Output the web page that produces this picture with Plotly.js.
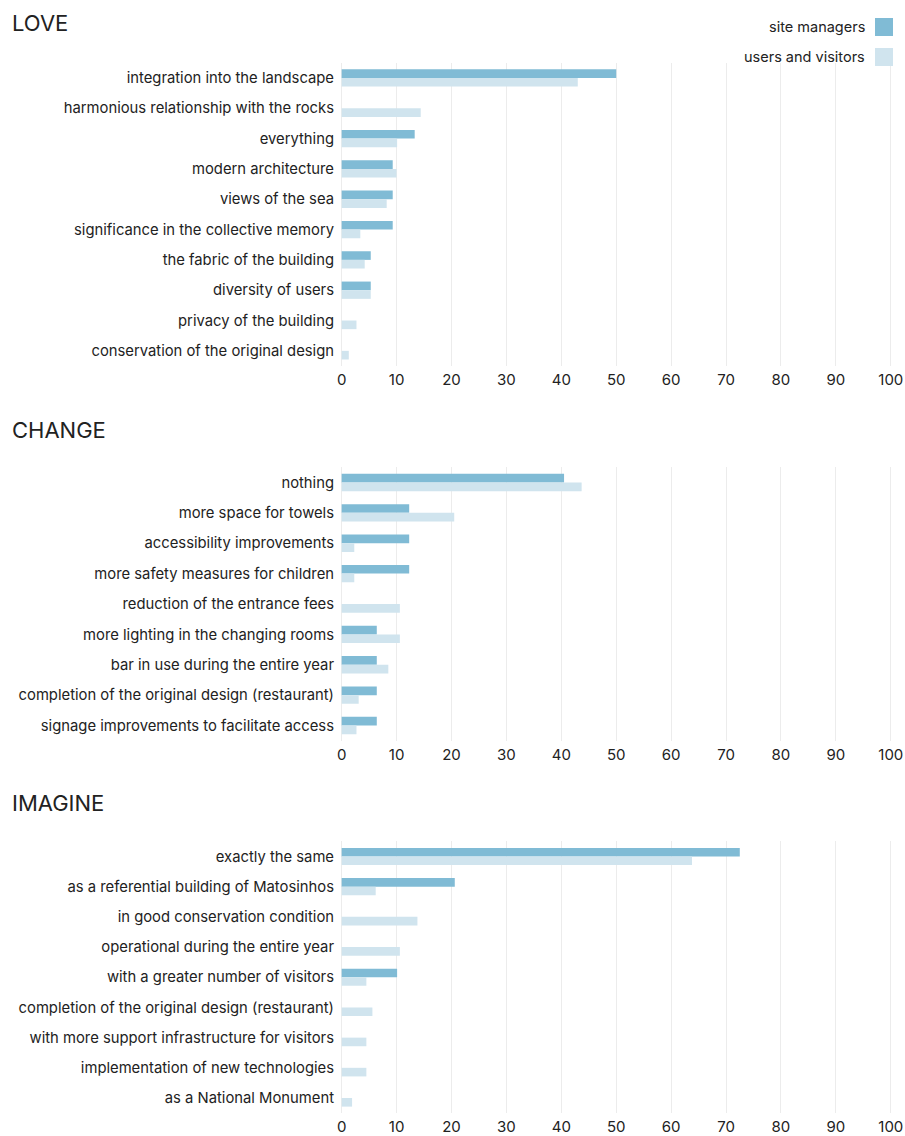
<!DOCTYPE html>
<html>
<head>
<meta charset="utf-8">
<script src="https://cdn.plot.ly/plotly-3.0.1.min.js"></script>
<style>html,body{margin:0;padding:0;background:#fff;}#chart{width:905px;height:1136px;}</style>
</head>
<body>
<div id="chart"></div>
<script>
const seriesNames = ["site managers", "users and visitors"];
const sectionTitles = ["LOVE", "CHANGE", "IMAGINE"];

const loveCategories = ["integration into the landscape", "harmonious relationship with the rocks", "everything", "modern architecture", "views of the sea", "significance in the collective memory", "the fabric of the building", "diversity of users", "privacy of the building", "conservation of the original design"];
const loveSite = [50, 0, 13.3, 9.3, 9.3, 9.3, 5.3, 5.3, 0, 0];
const loveUsers = [43, 14.4, 10.1, 10, 8.2, 3.4, 4.2, 5.3, 2.7, 1.3];

const changeCategories = ["nothing", "more space for towels", "accessibility improvements", "more safety measures for children", "reduction of the entrance fees", "more lighting in the changing rooms", "bar in use during the entire year", "completion of the original design (restaurant)", "signage improvements to facilitate access"];
const changeSite = [40.5, 12.3, 12.3, 12.3, 0, 6.4, 6.4, 6.4, 6.4];
const changeUsers = [43.7, 20.5, 2.3, 2.3, 10.6, 10.6, 8.5, 3.1, 2.7];

const imagineCategories = ["exactly the same", "as a referential building of Matosinhos", "in good conservation condition", "operational during the entire year", "with a greater number of visitors", "completion of the original design (restaurant)", "with more support infrastructure for visitors", "implementation of new technologies", "as a National Monument"];
const imagineSite = [72.5, 20.6, 0, 0, 10.1, 0, 0, 0, 0];
const imagineUsers = [63.8, 6.2, 13.8, 10.6, 4.5, 5.6, 4.5, 4.5, 1.9];

const xTicks = [0, 10, 20, 30, 40, 50, 60, 70, 80, 90, 100];

const colSite = "#80bbd5";
const colUsers = "#d0e4ee";
const FONT = "Inter, 'Liberation Sans', Arial, sans-serif";

const sections = [
  {cats: loveCategories, site: loveSite, users: loveUsers, ax: ""},
  {cats: changeCategories, site: changeSite, users: changeUsers, ax: "2"},
  {cats: imagineCategories, site: imagineSite, users: imagineUsers, ax: "3"}
];

const traces = [];
sections.forEach(s => {
  traces.push({type: "bar", orientation: "h", name: seriesNames[0], y: s.cats, x: s.site,
    marker: {color: colSite}, xaxis: "x" + s.ax, yaxis: "y" + s.ax, showlegend: false, hoverinfo: "x+y"});
  traces.push({type: "bar", orientation: "h", name: seriesNames[1], y: s.cats, x: s.users,
    marker: {color: colUsers}, xaxis: "x" + s.ax, yaxis: "y" + s.ax, showlegend: false, hoverinfo: "x+y"});
});

const H = 1136;
const L = 340, R = 12;
const PW = 905 - L - R;
const domains = [[1 - 366/H, 1 - 62.8/H], [1 - 740.7/H, 1 - 467.3/H], [1 - 1113.1/H, 1 - 841.4/H]];

function xaxis(anchor) {
  return {range: [-0.3, 100.4], tickvals: xTicks, ticktext: xTicks.map(String), showgrid: true, gridcolor: "#ececec", gridwidth: 1,
    zeroline: false, showline: false, ticks: "", anchor: anchor, fixedrange: true, ticklabelstandoff: 3,
    tickfont: {family: FONT, size: 15, color: "#222"}};
}
function yaxis(anchor, dom) {
  return {domain: dom, autorange: "reversed", type: "category", anchor: anchor, showgrid: false, zeroline: false,
    ticks: "", ticklabelstandoff: 5, tickfont: {family: FONT, size: 14.8, color: "#222"}, automargin: false};
}
function px(x) { return (x - L) / PW; }

const layout = {
  width: 905, height: 1136,
  margin: {l: L, r: R, t: 0, b: 0},
  paper_bgcolor: "#fff", plot_bgcolor: "#fff",
  barmode: "group", bargap: 0.43, bargroupgap: 0,
  showlegend: false,
  font: {family: FONT},
  xaxis: xaxis("y"), yaxis: yaxis("x", domains[0]),
  xaxis2: xaxis("y2"), yaxis2: yaxis("x2", domains[1]),
  xaxis3: xaxis("y3"), yaxis3: yaxis("x3", domains[2]),
  annotations: [
    {text: sectionTitles[0], xref: "paper", yref: "paper", x: px(10), y: 1 - 23/H, xanchor: "left", yanchor: "middle", showarrow: false, font: {family: FONT, size: 22, color: "#222"}},
    {text: sectionTitles[1], xref: "paper", yref: "paper", x: px(10), y: 1 - 430/H, xanchor: "left", yanchor: "middle", showarrow: false, font: {family: FONT, size: 22, color: "#222"}},
    {text: sectionTitles[2], xref: "paper", yref: "paper", x: px(10), y: 1 - 803/H, xanchor: "left", yanchor: "middle", showarrow: false, font: {family: FONT, size: 22, color: "#222"}},
    {text: seriesNames[0], xref: "paper", yref: "paper", x: px(867), y: 1 - 27/H, xanchor: "right", yanchor: "middle", showarrow: false, font: {family: FONT, size: 14.5, color: "#222"}},
    {text: seriesNames[1], xref: "paper", yref: "paper", x: px(867), y: 1 - 57/H, xanchor: "right", yanchor: "middle", showarrow: false, font: {family: FONT, size: 14.5, color: "#222"}}
  ],
  shapes: [
    {type: "rect", xref: "paper", yref: "paper", x0: px(875), x1: px(893), y0: 1 - 36/H, y1: 1 - 18/H, fillcolor: colSite, line: {width: 0}},
    {type: "rect", xref: "paper", yref: "paper", x0: px(875), x1: px(893), y0: 1 - 66/H, y1: 1 - 48/H, fillcolor: colUsers, line: {width: 0}}
  ]
};

Plotly.newPlot("chart", traces, layout, {displayModeBar: false, staticPlot: true});
</script>
</body>
</html>
